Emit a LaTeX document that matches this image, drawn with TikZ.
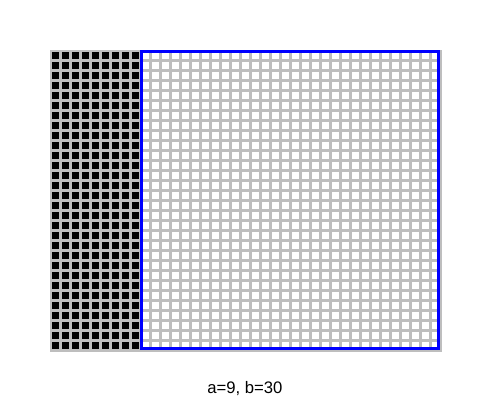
\documentclass[tikz,border=0pt]{standalone}
\usepackage{fontspec}
\setmainfont{Liberation Sans}
\definecolor{gridgray}{RGB}{190,190,190}
\definecolor{edgeblue}{RGB}{0,0,255}
\tikzset{
  gridback/.style={fill=gridgray},
  darkcell/.style={fill=black},
  lightcell/.style={fill=white},
  blueframe/.style={draw=edgeblue, line width=2.25pt},
  caption/.style={font=\fontsize{12.5}{14}\selectfont, inner sep=0pt}
}
\begin{document}
\begin{tikzpicture}[x=0.75pt,y=-0.75pt]
\useasboundingbox (0,0) rectangle (490,400);
\fill[white] (0,0) rectangle (490,400);
\path[gridback] (49.5,49.5) rectangle (441.5,351.5);
\foreach \j in {0,...,29} {
  \foreach \i in {0,...,8} {
    \path[darkcell] ({52+10*\i},{52+10*\j}) rectangle ++(7,7);
  }
  \foreach \i in {9,...,38} {
    \path[lightcell] ({52+10*\i},{52+10*\j}) rectangle ++(7,7);
  }
}
\draw[blueframe] (141.5,51.5) rectangle (438.5,348.5);
\node[caption] (cap) at (245,389) {a=9, b=30};
\end{tikzpicture}
\end{document}
